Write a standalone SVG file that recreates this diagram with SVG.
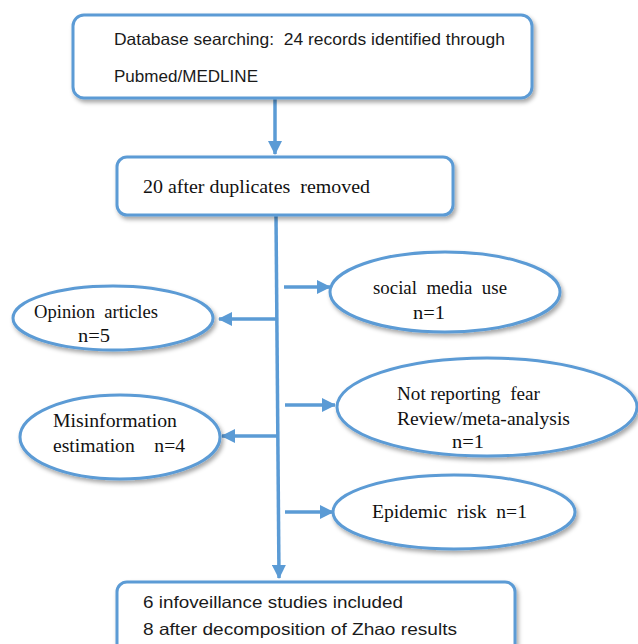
<svg xmlns="http://www.w3.org/2000/svg" width="638" height="644" viewBox="0 0 638 644">
<defs>
<style>
.box{fill:#fff;stroke:#5B9BD5;stroke-width:3;filter:url(#sh)}
.ln{stroke:#5B9BD5;stroke-width:3.5;fill:none}
.sans{font-family:"Liberation Sans","DejaVu Sans",Arial,sans-serif;font-size:16.5px;fill:#1a1a1a;white-space:pre}
.ser{font-family:"Liberation Serif","DejaVu Serif","Times New Roman",serif;font-size:18px;fill:#111;white-space:pre}
</style>
<filter id="sh" x="-10%" y="-10%" width="130%" height="140%">
<feDropShadow dx="2" dy="3" stdDeviation="2" flood-color="#000" flood-opacity="0.35"/>
</filter>
<marker id="ah" markerWidth="14" markerHeight="14" refX="13" refY="7" orient="auto" markerUnits="userSpaceOnUse">
<path d="M0,0 L14,7 L0,14 Z" fill="#5B9BD5"/>
</marker>
</defs>
<rect width="638" height="644" fill="#fff"/>
<g id="connectors">
<line class="ln" x1="275" y1="98" x2="275" y2="154" marker-end="url(#ah)"/>
<line class="ln" x1="276" y1="215" x2="279" y2="578" marker-end="url(#ah)"/>
<line class="ln" x1="284" y1="287" x2="330" y2="287" marker-end="url(#ah)"/>
<line class="ln" x1="277" y1="319" x2="219" y2="319" marker-end="url(#ah)"/>
<line class="ln" x1="285" y1="405" x2="335" y2="405" marker-end="url(#ah)"/>
<line class="ln" x1="278" y1="436" x2="222" y2="436" marker-end="url(#ah)"/>
<line class="ln" x1="285" y1="512" x2="333" y2="512" marker-end="url(#ah)"/>
</g>
<g id="n1">
<rect class="box" x="73" y="15" width="459" height="83" rx="11"/>
<text class="sans" x="114" y="45" textLength="391" lengthAdjust="spacingAndGlyphs" xml:space="preserve">Database searching:  24 records identified through</text>
<text class="sans" x="114" y="82" textLength="144" lengthAdjust="spacingAndGlyphs">Pubmed/MEDLINE</text>
</g>
<g id="n2">
<rect class="box" x="117" y="157" width="336" height="58" rx="10"/>
<text class="ser" x="143" y="193" textLength="227" lengthAdjust="spacingAndGlyphs" xml:space="preserve">20 after duplicates  removed</text>
</g>
<g id="n3">
<ellipse class="box" cx="445" cy="292" rx="115" ry="40"/>
<text class="ser" x="373" y="294" textLength="134" lengthAdjust="spacingAndGlyphs" xml:space="preserve">social  media  use</text>
<text class="ser" x="413" y="319" textLength="32" lengthAdjust="spacingAndGlyphs">n=1</text>
</g>
<g id="n4">
<ellipse class="box" cx="113" cy="318" rx="100" ry="32"/>
<text class="ser" x="34" y="318" textLength="124" lengthAdjust="spacingAndGlyphs" xml:space="preserve">Opinion  articles</text>
<text class="ser" x="78" y="342" textLength="32" lengthAdjust="spacingAndGlyphs">n=5</text>
</g>
<g id="n5">
<ellipse class="box" cx="487" cy="407" rx="150" ry="49"/>
<text class="ser" x="397" y="400" textLength="143" lengthAdjust="spacingAndGlyphs" xml:space="preserve">Not reporting  fear</text>
<text class="ser" x="397" y="425" textLength="173" lengthAdjust="spacingAndGlyphs">Review/meta-analysis</text>
<text class="ser" x="452" y="448" textLength="32" lengthAdjust="spacingAndGlyphs">n=1</text>
</g>
<g id="n6">
<ellipse class="box" cx="120" cy="437" rx="100" ry="42"/>
<text class="ser" x="53" y="427" textLength="124" lengthAdjust="spacingAndGlyphs">Misinformation</text>
<text class="ser" x="53" y="452" textLength="132" lengthAdjust="spacingAndGlyphs" xml:space="preserve">estimation    n=4</text>
</g>
<g id="n7">
<ellipse class="box" cx="454" cy="512" rx="121" ry="37"/>
<text class="ser" x="372" y="518" textLength="155" lengthAdjust="spacingAndGlyphs" xml:space="preserve">Epidemic  risk  n=1</text>
</g>
<g id="n8">
<rect class="box" x="117" y="582" width="398" height="80" rx="10"/>
<text class="sans" x="143" y="608" textLength="260" lengthAdjust="spacingAndGlyphs">6 infoveillance studies included</text>
<text class="sans" x="143" y="635" textLength="314" lengthAdjust="spacingAndGlyphs">8 after decomposition of Zhao results</text>
</g>
</svg>
